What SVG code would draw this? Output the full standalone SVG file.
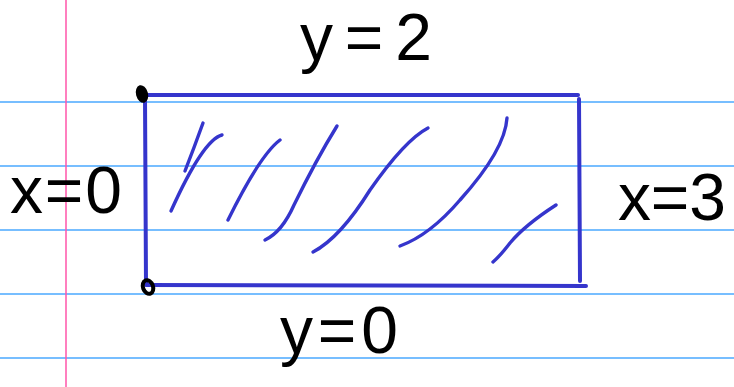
<svg xmlns="http://www.w3.org/2000/svg" width="734" height="387" viewBox="0 0 734 387">
<style>
.rule{stroke:#4aa8ff;stroke-width:1.5}
.margin{stroke:#ff55aa;stroke-width:1.5}
.edge{stroke:#3535cc;stroke-width:4;fill:none;stroke-linecap:round}
.hatch{stroke:#3535cc;stroke-width:3.4;fill:none;stroke-linecap:round}
.lbl{font-family:"Liberation Sans",Arial,sans-serif;fill:#000;font-size:66px}
</style>
<rect width="734" height="387" fill="#fff"/>
<g id="paper">
<line class="rule" x1="0" y1="102" x2="734" y2="102"/>
<line class="rule" x1="0" y1="166" x2="734" y2="166"/>
<line class="rule" x1="0" y1="230" x2="734" y2="230"/>
<line class="rule" x1="0" y1="294" x2="734" y2="294"/>
<line class="rule" x1="0" y1="358" x2="734" y2="358"/>
<line class="margin" x1="66" y1="0" x2="66" y2="387"/>
</g>
<g id="region">
<path class="edge" d="M145 95 L578 95"/>
<path class="edge" d="M145 97 L146 285"/>
<path class="edge" d="M147 285 L586 286"/>
<path class="edge" d="M579 99 L580 281"/>
<path class="hatch" d="M203 123 Q194 148 185 171"/>
<path class="hatch" d="M222 135 Q203 140 171 211"/>
<path class="hatch" d="M280 140 Q260 155 228 220"/>
<path class="hatch" d="M337 126 Q316 160 294 205 Q282 232 265 240"/>
<path class="hatch" d="M428 128 Q405 140 370 190 Q340 238 313 252"/>
<path class="hatch" d="M507 118 Q505 150 460 200 Q430 235 400 246"/>
<path class="hatch" d="M556 205 Q525 225 510 243 Q500 256 493 262"/>
<ellipse cx="142" cy="94" rx="6" ry="9" fill="#000" transform="rotate(-15 142 94)"/>
<ellipse cx="148" cy="287" rx="5" ry="7" fill="none" stroke="#000" stroke-width="4" transform="rotate(-20 148 287)"/>
</g>
<g id="labels">
<text class="lbl" x="300" y="60" textLength="132" lengthAdjust="spacing">y = 2</text>
<text class="lbl" x="10" y="213" textLength="112" lengthAdjust="spacing">x = 0</text>
<text class="lbl" x="618" y="220" textLength="108" lengthAdjust="spacing">x = 3</text>
<text class="lbl" x="280" y="353" textLength="118" lengthAdjust="spacing">y = 0</text>
</g>
</svg>
